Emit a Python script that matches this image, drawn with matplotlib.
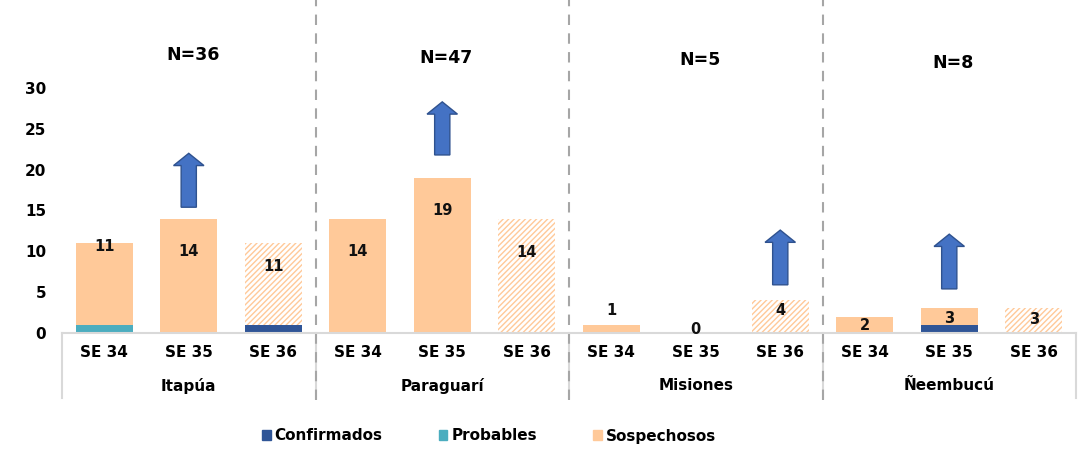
import matplotlib.pyplot as plt
from matplotlib.patches import FancyArrow, Patch
import numpy as np

# --- datos ---
regiones = ['Itapúa', 'Paraguarí', 'Misiones', 'Ñeembucú']
semanas = ['SE 34', 'SE 35', 'SE 36']
n_region = ['N=36', 'N=47', 'N=5', 'N=8']
confirmados = [0, 0, 1, 0, 0, 0, 0, 0, 0, 0, 1, 0]
probables = [1, 0, 0, 0, 0, 0, 0, 0, 0, 0, 0, 0]
sospechosos = [10, 14, 10, 14, 19, 14, 1, 0, 4, 2, 2, 3]
# flechas de tendencia: (indice de barra, desde, hasta)
flechas = [(1, 15.4, 22.0), (4, 21.8, 28.3), (8, 5.9, 12.6), (10, 5.4, 12.1)]

c_conf = '#2F5597'
c_prob = '#4BADBF'
c_sosp = '#FFC999'
gris = '#A6A6A6'
caja = '#D9D9D9'

plt.rcParams['font.family'] = 'DejaVu Sans'
plt.rcParams['font.weight'] = 'bold'
plt.rcParams['hatch.linewidth'] = 1.0

fig = plt.figure(figsize=(10.89, 4.49), dpi=100)
ax = fig.add_axes([62 / 1089, (449 - 333) / 449, (1076 - 62) / 1089, 326.7 / 449])

x = np.arange(len(sospechosos))
conf = np.array(confirmados)
prob = np.array(probables)
sosp = np.array(sospechosos)
totales = conf + prob + sosp
w = 0.68

ax.bar(x, conf, w, color=c_conf, linewidth=0)
ax.bar(x, prob, w, bottom=conf, color=c_prob, linewidth=0)
for i in x:
    hatched = (i % 3 == 2)
    if hatched:
        ax.bar(i, sosp[i], w, bottom=conf[i] + prob[i], facecolor='white',
               edgecolor=c_sosp, hatch='//////', linewidth=0)
    else:
        ax.bar(i, sosp[i], w, bottom=conf[i] + prob[i], color=c_sosp, linewidth=0)

# etiquetas de totales (desplazamiento bajo el tope, como en el original)
desfase = [0.4, 4.0, 2.8, 4.0, 4.0, 4.2, -1.7, -0.4, 1.2, 1.1, 1.2, 1.4]
for i in x:
    ax.text(i, totales[i] - desfase[i], str(totales[i]), ha='center', va='center',
            fontsize=10.5, fontweight='bold', color='#111111')

for idx, y0, y1 in flechas:
    ax.add_patch(FancyArrow(idx, y0, 0, y1 - y0, width=0.18, head_width=0.36,
                            head_length=1.5, length_includes_head=True,
                            facecolor='#4472C4', edgecolor='#2F528F', linewidth=1))

ax.set_xlim(-0.5, len(x) - 0.5)
ax.set_ylim(0, 40)
ax.set_yticks(range(0, 31, 5))
ax.tick_params(axis='y', length=0, labelsize=11, pad=11.5)
for lab in ax.get_yticklabels():
    lab.set_fontweight('bold')
ax.set_xticks([])
for s in ['top', 'right', 'left']:
    ax.spines[s].set_visible(False)
ax.spines['bottom'].set_color(caja)
ax.spines['bottom'].set_linewidth(1.5)

trans = ax.get_xaxis_transform()
for i in x:
    ax.text(i, -0.061, semanas[i % 3], transform=trans, ha='center', va='center',
            fontsize=11, fontweight='bold')
for g, reg in enumerate(regiones):
    ax.text(g * 3 + 1, -0.162, reg, transform=trans, ha='center', va='center',
            fontsize=11, fontweight='bold')
    ax.text(g * 3 + 1.05, [34.0, 33.7, 33.4, 33.1][g], n_region[g], ha='center',
            va='center', fontsize=12.5, fontweight='bold')

for b in [-0.5, 2.5, 5.5, 8.5, 11.5]:
    ax.plot([b, b], [0, -0.199], transform=trans, color=caja, lw=1.5, clip_on=False)
for b in [2.5, 5.5, 8.5]:
    ax.plot([b, b], [-0.205, 1.02], transform=trans, color=gris, lw=1.5,
            ls=(0, (5, 4)), clip_on=False)

handles = [Patch(color=c_conf), Patch(color=c_prob), Patch(color=c_sosp)]
fig.legend(handles, ['Confirmados', 'Probables', 'Sospechosos'], loc='center',
           bbox_to_anchor=(489 / 1089, 1 - 436 / 449), ncol=3, frameon=False,
           handlelength=0.55, handleheight=0.6, handletextpad=0.25, columnspacing=3.7,
           prop={'size': 11, 'weight': 'bold'})

fig.savefig('out.png', dpi=100)
